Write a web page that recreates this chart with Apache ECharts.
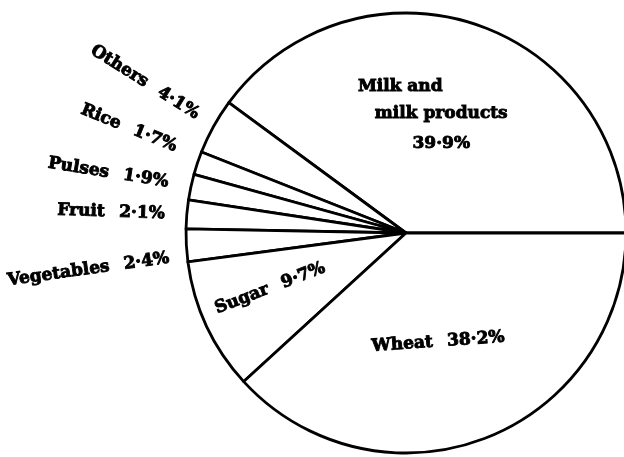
<!DOCTYPE html>
<html>
<head>
<meta charset="utf-8">
<script src="https://cdn.jsdelivr.net/npm/echarts@6/dist/echarts.min.js"></script>
<style>
  html, body { margin: 0; padding: 0; background: #ffffff; }
  #chart { width: 624px; height: 457px; }
</style>
</head>
<body>
<div id="chart"></div>
<script>
// Data
const categories = ['Milk and milk products', 'Others', 'Rice', 'Pulses', 'Fruit', 'Vegetables', 'Sugar', 'Wheat'];
const values = [39.9, 4.1, 1.7, 1.9, 2.1, 2.4, 9.7, 38.2];
const insideCategories = ['Milk and milk products', 'Sugar', 'Wheat'];

// Label nudges (style only)
const labelNudge = {
  'Milk and milk products': { dx: 0, dy: -9, rotate: 0 },
  'Others': { dx: -1, dy: -4, rotate: -32 },
  'Rice': { dx: -7, dy: -9, rotate: -22 },
  'Pulses': { dx: -4, dy: -1, rotate: -9 },
  'Fruit': { dx: -3, dy: 1, rotate: -2 },
  'Vegetables': { dx: 0, dy: 12, rotate: 8 },
  'Sugar': { dx: -34, dy: -5, rotate: 21 },
  'Wheat': { dx: -9, dy: 3, rotate: 4 }
};

function fmt(v) { return v.toFixed(1).replace('.', '·') + '%'; }

const FONT = 'DejaVu Serif';
const GAP = ' \u2002';

const data = categories.map(function (name, i) {
  const inside = insideCategories.indexOf(name) >= 0;
  const item = { name: name, value: values[i] };
  if (inside) {
    item.label = { position: 'inside' };
    item.labelLine = { show: false };
  }
  return item;
});

const textStyle = { fontFamily: FONT, fontWeight: 'bold', fontSize: 17, color: '#000', textBorderColor: '#000', textBorderWidth: 0.9 };

const chart = echarts.init(document.getElementById('chart'), null, { renderer: 'canvas' });
chart.setOption({
  backgroundColor: '#ffffff',
  animation: false,
  series: [{
    type: 'pie',
    center: [406, 233],
    radius: [0, 220],
    startAngle: 0,
    clockwise: false,
    avoidLabelOverlap: false,
    silent: true,
    itemStyle: { color: '#ffffff', borderColor: '#000000', borderWidth: 2.8 },
    label: Object.assign({
      show: true,
      position: 'outside',
      rotate: 'radial',
      distanceToLabelLine: 4,
      formatter: function (p) {
        if (p.name === 'Milk and milk products') {
          return '{a|Milk and}\n{b|milk products}\n{c|' + fmt(p.value) + '}';
        }
        return p.name + GAP + fmt(p.value);
      },
      rich: {
        a: Object.assign({ lineHeight: 27, padding: [0, 82, 0, 0] }, textStyle),
        b: Object.assign({ lineHeight: 27 }, textStyle),
        c: Object.assign({ lineHeight: 33 }, textStyle)
      }
    }, textStyle),
    labelLine: { show: false, length: 15, length2: 0 },
    labelLayout: function (params) {
      const n = labelNudge[categories[params.dataIndex]];
      if (!n) return {};
      const out = { dx: n.dx, dy: n.dy };
      if (n.rotate !== undefined) out.rotate = n.rotate;
      return out;
    },
    data: data
  }]
});
</script>
</body>
</html>
